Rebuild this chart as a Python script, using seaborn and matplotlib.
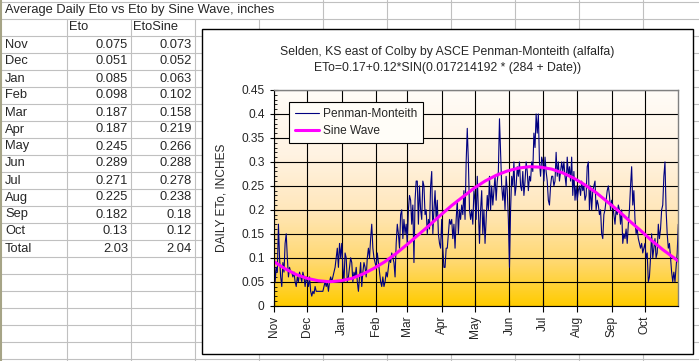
import numpy as np
import pandas as pd
import seaborn as sns
import matplotlib.pyplot as plt
import matplotlib.dates as mdates
from matplotlib.patches import Rectangle
from matplotlib.ticker import MultipleLocator, FuncFormatter
from matplotlib.colors import LinearSegmentedColormap

# monthly averages (table on the left)
months = ['Nov', 'Dec', 'Jan', 'Feb', 'Mar', 'Apr', 'May', 'Jun', 'Jul', 'Aug', 'Sep', 'Oct']
eto = [0.075, 0.051, 0.085, 0.098, 0.187, 0.187, 0.245, 0.289, 0.271, 0.225, 0.182, 0.13]
eto_sine = [0.073, 0.052, 0.063, 0.102, 0.158, 0.219, 0.266, 0.288, 0.278, 0.238, 0.18, 0.12]
eto_total = 2.03
sine_total = 2.04

# daily Penman-Monteith ETo, one list per month
pm_nov = [0.11, 0.05, 0.08, 0.07, 0.17, 0.10, 0.06, 0.04, 0.09, 0.07, 0.13, 0.15, 0.10, 0.06, 0.08,
          0.07, 0.07, 0.06, 0.07, 0.05, 0.04, 0.06, 0.05, 0.07, 0.06, 0.05, 0.07, 0.06, 0.04, 0.06]
pm_dec = [0.05, 0.04, 0.06, 0.03, 0.02, 0.03, 0.025, 0.04, 0.03, 0.03, 0.03, 0.03, 0.03, 0.03, 0.03,
          0.04, 0.05, 0.04, 0.05, 0.03, 0.05, 0.06, 0.05, 0.06, 0.07, 0.08, 0.10, 0.12, 0.08, 0.13, 0.10]
pm_jan = [0.13, 0.08, 0.05, 0.11, 0.10, 0.05, 0.06, 0.08, 0.10, 0.09, 0.05, 0.07, 0.06, 0.08, 0.05,
          0.03, 0.06, 0.09, 0.04, 0.07, 0.09, 0.08, 0.06, 0.10, 0.12, 0.10, 0.14, 0.17, 0.12, 0.10, 0.09]
pm_feb = [0.08, 0.11, 0.09, 0.07, 0.05, 0.04, 0.06, 0.04, 0.05, 0.07, 0.06, 0.08, 0.10, 0.09,
          0.11, 0.10, 0.09, 0.06, 0.13, 0.17, 0.15, 0.12, 0.19, 0.20, 0.14, 0.18, 0.15, 0.17]
pm_mar = [0.13, 0.20, 0.23, 0.22, 0.17, 0.21, 0.09, 0.22, 0.26, 0.26, 0.17, 0.25, 0.20, 0.18, 0.26,
          0.25, 0.19, 0.20, 0.15, 0.18, 0.16, 0.25, 0.28, 0.15, 0.20, 0.24, 0.18, 0.22, 0.15, 0.13, 0.12]
pm_apr = [0.18, 0.12, 0.08, 0.08, 0.12, 0.12, 0.15, 0.18, 0.17, 0.18, 0.14, 0.17, 0.12, 0.18, 0.22,
          0.15, 0.20, 0.18, 0.21, 0.19, 0.24, 0.18, 0.30, 0.37, 0.30, 0.20, 0.18, 0.20, 0.17, 0.24]
pm_may = [0.22, 0.18, 0.27, 0.20, 0.13, 0.20, 0.24, 0.15, 0.20, 0.13, 0.18, 0.23, 0.20, 0.27, 0.20,
          0.25, 0.21, 0.24, 0.27, 0.22, 0.26, 0.28, 0.39, 0.32, 0.25, 0.22, 0.25, 0.20, 0.27, 0.24, 0.18]
pm_jun = [0.08, 0.20, 0.27, 0.25, 0.30, 0.23, 0.25, 0.29, 0.27, 0.30, 0.25, 0.24, 0.28, 0.23, 0.26,
          0.30, 0.28, 0.24, 0.27, 0.26, 0.30, 0.28, 0.36, 0.33, 0.40, 0.36, 0.40, 0.30, 0.27, 0.31]
pm_jul = [0.30, 0.26, 0.31, 0.28, 0.26, 0.22, 0.21, 0.25, 0.27, 0.27, 0.25, 0.26, 0.32, 0.27, 0.30,
          0.26, 0.28, 0.30, 0.28, 0.30, 0.27, 0.25, 0.31, 0.27, 0.29, 0.26, 0.31, 0.23, 0.28, 0.22, 0.25]
pm_aug = [0.22, 0.24, 0.25, 0.23, 0.26, 0.24, 0.25, 0.22, 0.23, 0.29, 0.30, 0.20, 0.25, 0.20, 0.24,
          0.25, 0.26, 0.20, 0.22, 0.21, 0.19, 0.20, 0.15, 0.14, 0.19, 0.20, 0.22, 0.24, 0.25, 0.23, 0.20]
pm_sep = [0.22, 0.21, 0.19, 0.17, 0.20, 0.19, 0.21, 0.20, 0.17, 0.20, 0.13, 0.15, 0.14, 0.16, 0.13,
          0.17, 0.20, 0.25, 0.29, 0.21, 0.24, 0.18, 0.15, 0.16, 0.14, 0.13, 0.12, 0.13, 0.11, 0.12]
pm_oct = [0.13, 0.10, 0.11, 0.05, 0.06, 0.10, 0.15, 0.10, 0.12, 0.14, 0.10, 0.11, 0.17, 0.14, 0.16,
          0.20, 0.21, 0.27, 0.30, 0.20, 0.15, 0.12, 0.13, 0.10, 0.07, 0.05, 0.07, 0.05, 0.08, 0.11, 0.17]

# sine wave read every 10 days from Nov 1
sine_day = [0, 10, 20, 30, 40, 50, 60, 70, 80, 90, 100, 110, 120, 130, 140, 150, 160, 170, 180,
            190, 200, 210, 220, 230, 240, 250, 260, 270, 280, 290, 300, 310, 320, 330, 340, 350, 360, 364]
sine_val = [0.092, 0.077, 0.065, 0.057, 0.052, 0.050, 0.052, 0.057, 0.066, 0.078, 0.092, 0.109, 0.128,
            0.148, 0.168, 0.189, 0.209, 0.227, 0.245, 0.260, 0.272, 0.281, 0.287, 0.290, 0.289, 0.285,
            0.277, 0.266, 0.252, 0.236, 0.217, 0.198, 0.177, 0.157, 0.136, 0.117, 0.100, 0.093]

pm = pm_nov + pm_dec + pm_jan + pm_feb + pm_mar + pm_apr + pm_may + pm_jun + pm_jul + pm_aug + pm_sep + pm_oct
start = pd.Timestamp('2002-11-01')
pm_df = pd.DataFrame({'date': pd.date_range(start, periods=len(pm), freq='D'), 'eto': pm})
sine_df = pd.DataFrame({'date': start + pd.to_timedelta(sine_day, unit='D'), 'eto': sine_val})

sns.set_theme(style='white')
plt.rcParams['font.family'] = ['Liberation Sans', 'DejaVu Sans']
fs_tab = 9.3   # spreadsheet cells
fs = 8.6       # chart text

fig = plt.figure(figsize=(6.99, 3.61), dpi=100)

# spreadsheet background, drawn in pixel coords
bg = fig.add_axes([0, 0, 1, 1])
bg.axis('off')
grid_c = '#C0C0C0'
row_lines = [2 + 17 * k for k in range(22)]
col_lines = [66.5 + 64 * k for k in range(10)]
for y in row_lines:
    bg.plot([0, 699], [y, y], color=grid_c, lw=0.8, zorder=1)
for x in col_lines:
    y0 = row_lines[1] if x < 280 else 0
    bg.plot([x, x], [y0, 361], color=grid_c, lw=0.8, zorder=1)
bg.plot([1, 1], [0, 361], color='#A6A486', lw=1.5, zorder=1)

bg.text(5, 10.5, 'Average Daily Eto vs Eto by Sine Wave, inches', fontsize=fs_tab, va='center', ha='left')
bg.text(69, 27.5, 'Eto', fontsize=fs_tab, va='center', ha='left')
bg.text(133, 27.5, 'EtoSine', fontsize=fs_tab, va='center', ha='left')
for i, m in enumerate(months):
    yc = 2 + 17 * (i + 2) + 8.5
    bg.text(5, yc, m, fontsize=fs_tab, va='center', ha='left')
    bg.text(128, yc, f'{eto[i]:g}', fontsize=fs_tab, va='center', ha='right')
    bg.text(192, yc, f'{eto_sine[i]:g}', fontsize=fs_tab, va='center', ha='right')
yc = 2 + 17 * 14 + 8.5
bg.text(5, yc, 'Total', fontsize=fs_tab, va='center', ha='left')
bg.text(128, yc, f'{eto_total:g}', fontsize=fs_tab, va='center', ha='right')
bg.text(192, yc, f'{sine_total:g}', fontsize=fs_tab, va='center', ha='right')

# chart frame
bg.add_patch(Rectangle((201.7, 29.3), 693.3 - 201.7, 354 - 29.3, fc='white', ec='black', lw=1, zorder=2))
bg.text(447.5, 52, 'Selden, KS east of Colby by ASCE Penman-Monteith (alfalfa)', fontsize=8.8,
        ha='center', va='center', zorder=3)
bg.text(447.5, 67.5, 'ETo=0.17+0.12*SIN(0.017214192 * (284 + Date))', fontsize=8.8,
        ha='center', va='center', zorder=3)

# plot area gradient
pl, pr, pt, pb = 274, 678.3, 90, 305.7
grad_cmap = LinearSegmentedColormap.from_list('plotbg', [(0, '#FFCC00'), (0.2, '#FFD86E'), (0.45, '#FFE7BC'),
                                                           (0.7, '#FFF3E2'), (1, '#FFFCF8')])
grad = np.linspace(1, 0, 256).reshape(-1, 1)
bg.imshow(grad, cmap=grad_cmap, extent=[pl, pr, pb, pt], aspect='auto', zorder=3, interpolation='bilinear')
bg.set_xlim(0, 699)
bg.set_ylim(361, 0)

ax = fig.add_axes([pl / 699, (361 - pb) / 361, (pr - pl) / 699, (pb - pt) / 361])
ax.set_facecolor('none')
sns.lineplot(data=pm_df, x='date', y='eto', ax=ax, color='#000080', lw=0.8, label='Penman-Monteith')
sns.lineplot(data=sine_df, x='date', y='eto', ax=ax, color='#FF00FF', lw=2.2, label='Sine Wave')

ax.set_xlim(start, pd.Timestamp('2003-10-31'))
ax.set_ylim(0, 0.45)
ax.yaxis.set_major_locator(MultipleLocator(0.05))
ax.yaxis.set_minor_locator(MultipleLocator(0.01))
ax.yaxis.set_major_formatter(FuncFormatter(lambda v, p: f'{v:g}'))
ax.xaxis.set_major_locator(mdates.MonthLocator())
ax.xaxis.set_major_formatter(mdates.DateFormatter('%b'))
ax.tick_params(axis='x', which='major', direction='inout', length=8, width=0.8, color='black',
               labelsize=fs, labelrotation=90, pad=3, bottom=True)
ax.tick_params(axis='y', which='major', direction='inout', length=5.5, width=0.8, color='black',
               labelsize=fs, pad=4, left=True)
ax.tick_params(axis='y', which='minor', direction='in', length=2.5, width=0.6, color='black', left=True)
ax.grid(True, which='major', color='black', lw=0.8)
ax.set_axisbelow(True)
for s in ['left', 'bottom']:
    ax.spines[s].set_color('black')
    ax.spines[s].set_linewidth(0.8)
for s in ['top', 'right']:
    ax.spines[s].set_color('#808080')
    ax.spines[s].set_linewidth(1)
ax.set_xlabel('')
ax.set_ylabel('DAILY ETo, INCHES', fontsize=fs)
ax.yaxis.set_label_coords(-0.116, 0.5)

leg = ax.legend(loc='upper left', bbox_to_anchor=(0.038, 0.944), borderaxespad=0, fontsize=fs,
                frameon=True, fancybox=False, edgecolor='black', facecolor='#FFFDF8', framealpha=1,
                handlelength=2.0, handletextpad=0.3, labelspacing=0.45, borderpad=0.5)
leg.get_frame().set_linewidth(0.8)

fig.savefig('out.png', dpi=100)
